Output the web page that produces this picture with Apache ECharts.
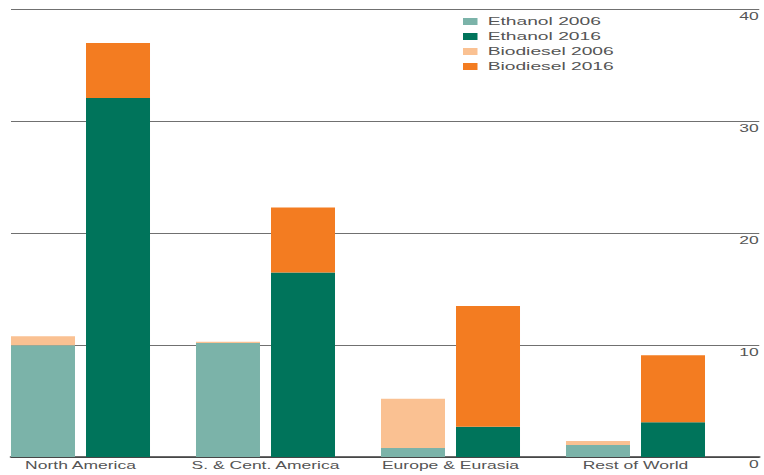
<!DOCTYPE html>
<html>
<head>
<meta charset="utf-8">
<script src="https://cdn.jsdelivr.net/npm/echarts@6/dist/echarts.min.js"></script>
<style>
html,body{margin:0;padding:0;background:#fff;overflow:hidden;}
#wrap{width:764px;height:475px;overflow:hidden;position:relative;background:#fff;}
#chart{position:absolute;left:-12px;top:0;height:475px;transform-origin:0 0;}
</style>
</head>
<body>
<div id="wrap"><div id="chart"></div></div>
<script>
const categories = ['North America', 'S. & Cent. America', 'Europe & Eurasia', 'Rest of World'];
const ethanol2006 = [10.0, 10.2, 0.8, 1.07];
const ethanol2016 = [32.1, 16.5, 2.7, 3.1];
const biodiesel2006 = [0.8, 0.1, 4.4, 0.36];
const biodiesel2016 = [4.9, 5.8, 10.8, 6.0];
const yTicks = [0, 10, 20, 30, 40];

const S = 1.75;   // horizontal stretch of the original artwork
const OFF = 12;   // container shifted left by this many screen px
const W = (764 + OFF) / S;
const el = document.getElementById('chart');
el.style.width = W + 'px';
el.style.transform = 'scaleX(' + S + ')';

const chart = echarts.init(el, null, {renderer: 'svg', width: W, height: 475});
const font = 'Liberation Sans, Arial, sans-serif';
const txt = '#555555';

function bar(name, data, stack, color) {
  return {
    name: name, type: 'bar', stack: stack, data: data,
    xAxisIndex: 0, yAxisIndex: 0,
    barWidth: 64 / S, barGap: '17.2%',
    itemStyle: {color: color},
    emphasis: {disabled: true}
  };
}

chart.setOption({
  animation: false,
  backgroundColor: '#fff',
  textStyle: {fontFamily: font},
  legend: {
    orient: 'vertical',
    left: (463 + OFF) / S, top: 15,
    padding: 0,
    icon: 'rect', itemWidth: 14.5 / S, itemHeight: 7,
    itemGap: 2,
    selectedMode: false,
    textStyle: {fontFamily: font, fontSize: 11, color: txt, lineHeight: 13, padding: [0, 0, 0, 0.8]},
    data: ['Ethanol 2006', 'Ethanol 2016', 'Biodiesel 2006', 'Biodiesel 2016']
  },
  grid: [
    {left: 0, width: 740 / S, top: 9.5, bottom: 18, containLabel: false},
    {left: (11 + OFF) / S, right: 1 / S, top: 9.5, bottom: 18, containLabel: false}
  ],
  xAxis: [
    {type: 'category', gridIndex: 0, data: categories,
     axisLine: {show: false}, axisTick: {show: false},
     axisLabel: {color: txt, fontSize: 10, fontFamily: font, margin: 3, interval: 0}},
    {type: 'value', gridIndex: 1, min: 0, max: 1, show: true,
     axisLine: {show: true, onZero: false, lineStyle: {color: '#3a3a3a', width: 1.6}},
     axisTick: {show: false}, axisLabel: {show: false}, splitLine: {show: false}}
  ],
  yAxis: [
    {type: 'value', gridIndex: 0, min: 0, max: 40, interval: 10, show: false,
     splitLine: {show: false}},
    {type: 'value', gridIndex: 1, min: 0, max: 40, interval: 10, position: 'right',
     axisLine: {show: false}, axisTick: {show: false},
     splitLine: {show: true, lineStyle: {color: '#707070', width: 1}},
     axisLabel: {inside: true, margin: 0.3, color: txt, fontSize: 10, fontFamily: font,
       verticalAlign: 'top', padding: [2, 0, 0, 0],
       formatter: function (v) { return yTicks.indexOf(v) >= 0 ? String(v) : ''; }}}
  ],
  series: [
    bar('Ethanol 2006', ethanol2006, 'a', '#7bb3a9'),
    bar('Ethanol 2016', ethanol2016, 'b', '#00745b'),
    bar('Biodiesel 2006', biodiesel2006, 'a', '#fac192'),
    bar('Biodiesel 2016', biodiesel2016, 'b', '#f37c21')
  ]
});
</script>
</body>
</html>
